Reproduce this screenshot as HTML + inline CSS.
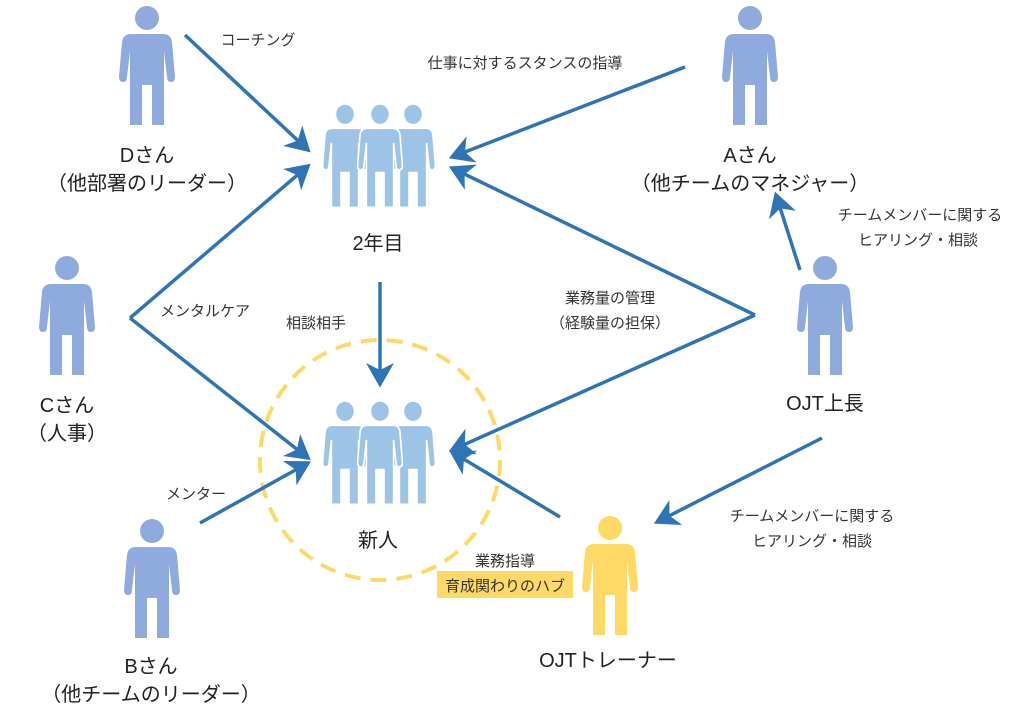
<!DOCTYPE html>
<html><head><meta charset="utf-8"><style>
html,body{margin:0;padding:0;background:#fff;}
svg{display:block;font-family:"Liberation Sans","Noto Sans CJK JP",sans-serif;}
.l{font-size:20px;fill:#222;text-anchor:middle;}
.s{font-size:15px;fill:#333;text-anchor:middle;}
.a{stroke:#2e75b6;stroke-width:3.5;fill:none;marker-end:url(#ah);}
</style></head><body>
<svg width="1023" height="727" viewBox="0 0 1023 727">
<defs>
<marker id="ah" markerWidth="8" markerHeight="8" refX="6" refY="4" orient="auto" markerUnits="strokeWidth">
<path d="M0,0 L7,4 L0,8 L2,4 Z" fill="#2e75b6"/></marker>
<g id="p">
<circle cx="30" cy="13" r="12"/>
<path d="M14 29 H46 Q54 29 55 37 L58 72 Q58 77 54 77 Q50 77 50 72 L47 46 V120 H35 V80 H25 V120 H13 V46 L10 72 Q10 77 6 77 Q2 77 2 72 L5 37 Q6 29 14 29 Z"/>
</g>
<g id="grp" fill="#9dc3e6" stroke="#fff" stroke-width="2">
<g transform="translate(-29,0) scale(0.8,0.87)"><use href="#p"/></g>
<g transform="translate(39,0) scale(0.8,0.87)"><use href="#p"/></g>
<g transform="translate(6,0) scale(0.8,0.87)"><use href="#p"/></g>
</g>
</defs>

<circle cx="380" cy="460" r="120" fill="none" stroke="#ffd966" stroke-width="4" stroke-dasharray="16 10"/>

<g fill="#8faadc">
<use href="#p" x="117" y="5"/>
<use href="#p" x="720" y="5"/>
<use href="#p" x="37" y="255"/>
<use href="#p" x="795" y="255"/>
<use href="#p" x="122" y="518"/>
</g>
<use href="#p" x="580" y="515" fill="#ffd966"/>
<g transform="translate(350,103)"><use href="#grp"/></g>
<g transform="translate(350,400)"><use href="#grp"/></g>

<line class="a" x1="185" y1="35" x2="308" y2="150"/>
<line class="a" x1="685" y1="67" x2="452" y2="157"/>
<line class="a" x1="130" y1="318" x2="308" y2="166"/>
<line class="a" x1="130" y1="318" x2="308" y2="458"/>
<line class="a" x1="380" y1="282" x2="380" y2="384"/>
<line class="a" x1="755" y1="315" x2="452" y2="168"/>
<line class="a" x1="755" y1="315" x2="452" y2="450"/>
<line class="a" x1="800" y1="270" x2="776" y2="195"/>
<line class="a" x1="822" y1="438" x2="657" y2="522"/>
<line class="a" x1="200" y1="523" x2="308" y2="463"/>
<line class="a" x1="560" y1="517" x2="452" y2="452"/>

<text class="l" x="147" y="162">Dさん</text>
<text class="l" x="147" y="190">（他部署のリーダー）</text>
<text class="l" x="750" y="162">Aさん</text>
<text class="l" x="750" y="190">（他チームのマネジャー）</text>
<text class="l" x="67" y="412">Cさん</text>
<text class="l" x="67" y="440">（人事）</text>
<text class="l" x="825" y="410">OJT上長</text>
<text class="l" x="151" y="673">Bさん</text>
<text class="l" x="151" y="701">（他チームのリーダー）</text>
<text class="l" x="608" y="667">OJTトレーナー</text>
<text class="l" x="378" y="250">2年目</text>
<text class="l" x="378" y="547">新人</text>

<text class="s" x="258" y="45">コーチング</text>
<text class="s" x="525" y="68">仕事に対するスタンスの指導</text>
<text class="s" x="205" y="316">メンタルケア</text>
<text class="s" x="316" y="328">相談相手</text>
<text class="s" x="610" y="303">業務量の管理</text>
<text class="s" x="610" y="328">（経験量の担保）</text>
<text class="s" x="920" y="220">チームメンバーに関する</text>
<text class="s" x="918" y="245">ヒアリング・相談</text>
<text class="s" x="812" y="521">チームメンバーに関する</text>
<text class="s" x="812" y="546">ヒアリング・相談</text>
<text class="s" x="196" y="499">メンター</text>
<text class="s" x="505" y="566">業務指導</text>
<rect x="437" y="571" width="136" height="27" fill="#ffd966"/>
<text class="s" x="505" y="591">育成関わりのハブ</text>
</svg>
</body></html>
